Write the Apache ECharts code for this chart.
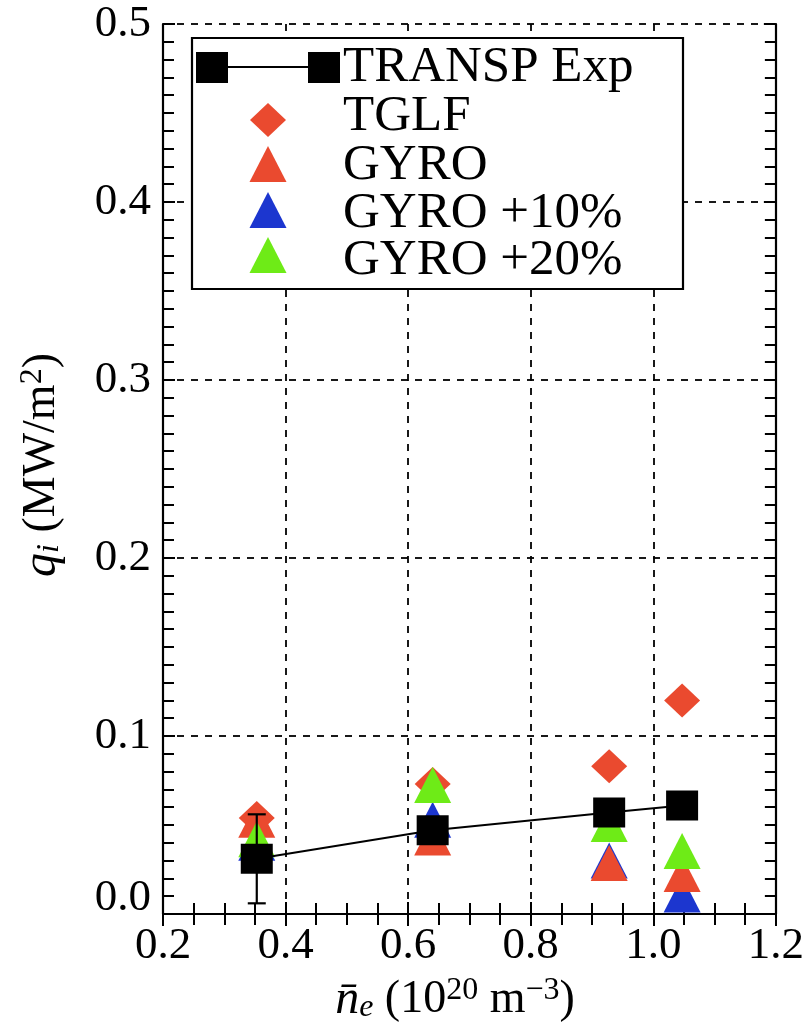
<!DOCTYPE html>
<html>
<head>
<meta charset="utf-8">
<script src="https://cdn.jsdelivr.net/npm/echarts@6/dist/echarts.min.js"></script>
<style>
html,body{margin:0;padding:0;background:#fff;}
#chart{width:807px;height:1035px;}
</style>
</head>
<body>
<div id="chart"></div>
<script>
// ---- data ----
const densities = [0.353, 0.640, 0.928, 1.047];
const transpExp = [0.031, 0.047, 0.057, 0.061];
const tglf      = [0.054, 0.073, 0.083, 0.120];
const gyro      = [0.053, 0.043, 0.0287, 0.0225];
const gyro10    = [0.040, 0.053, 0.030, 0.011];
const gyro20    = [0.042, 0.0725, 0.0506, 0.0354];
const errX      = [0.353];
const errLow    = [0.006];
const errHigh   = [0.056];
const seriesNames = ['TRANSP Exp', 'TGLF', 'GYRO', 'GYRO +10%', 'GYRO +20%'];
const xTickLabels = ['0.2', '0.4', '0.6', '0.8', '1.0', '1.2'];
const yTickLabels = ['0.0', '0.1', '0.2', '0.3', '0.4', '0.5'];

const RED = '#EA4A2F', BLUE = '#1C36CF', GREEN = '#6EEB17';
const FONT = '"Liberation Serif", "DejaVu Serif", serif';

const pairs = arr => arr.map((v, i) => [densities[i], v]);

const chart = echarts.init(document.getElementById('chart'), null, {renderer: 'canvas'});

const axisLine = {show: true, lineStyle: {color: '#000', width: 2.2}};
const tick = {show: true, inside: true, length: 12, lineStyle: {color: '#000', width: 2}};
const minor = n => ({show: true, splitNumber: n, length: 11, lineStyle: {color: '#000', width: 2}});
const grid = {show: true, lineStyle: {color: '#000', width: 1.8, type: [7, 7]}};

// legend graphics
const legendG = [];
legendG.push({type: 'rect', shape: {x: 192, y: 38, width: 491, height: 251},
  style: {fill: '#fff', stroke: '#000', lineWidth: 2.2}, z: 100});
legendG.push({type: 'line', shape: {x1: 212, y1: 67, x2: 324, y2: 67},
  style: {stroke: '#000', lineWidth: 2}, z: 101});
legendG.push({type: 'rect', shape: {x: 196, y: 52, width: 32, height: 31}, style: {fill: '#000'}, z: 102});
legendG.push({type: 'rect', shape: {x: 308, y: 52, width: 32, height: 31}, style: {fill: '#000'}, z: 102});
legendG.push({type: 'polygon', shape: {points: [[268, 103], [286, 120], [268, 137], [250, 120]]},
  style: {fill: RED}, z: 101});
const triCenters = [164, 210, 255], triColors = [RED, BLUE, GREEN];
triCenters.forEach((cy, i) => legendG.push({type: 'polygon',
  shape: {points: [[268, cy - 18], [286.5, cy + 18], [249.5, cy + 18]]},
  style: {fill: triColors[i]}, z: 101}));
const textCenters = [68, 117, 166, 214, 261];
seriesNames.forEach((n, i) => legendG.push({type: 'text', x: 343, y: textCenters[i],
  style: {text: n, font: '51px ' + FONT, fill: '#000', verticalAlign: 'middle', align: 'left'}, z: 101}));

// axis titles
const titleRich = {
  q: {font: 'italic 48px ' + FONT, fill: '#000'},
  s: {font: 'italic 32px ' + FONT, fill: '#000', padding: [16, 0, 0, 0]},
  n: {font: '46px ' + FONT, fill: '#000'},
  p: {font: '32px ' + FONT, fill: '#000', padding: [0, 0, 18, 0]}
};
legendG.push({type: 'text', x: 42, y: 465, rotation: Math.PI / 2,
  style: {text: '{q|q}{s|i}{n| (MW/m}{p|2}{n|)}', align: 'center', verticalAlign: 'middle', rich: titleRich},
  z: 50});
legendG.push({type: 'text', x: 455, y: 1000,
  style: {text: '{q|n\u0304}{s|e}{n| (10}{p|20}{n| m}{p|\u22123}{n|)}', align: 'center', verticalAlign: 'middle', rich: titleRich},
  z: 50});

const option = {
  backgroundColor: '#fff',
  animation: false,
  grid: {left: 163, right: 29, top: 24, bottom: 121, containLabel: false},
  xAxis: [{
    type: 'value', min: 0.2, max: 1.2, interval: 0.2, position: 'bottom',
    axisLine: axisLine, axisTick: tick, minorTick: minor(4), splitLine: grid,
    axisLabel: {margin: 10, color: '#000', fontFamily: FONT, fontSize: 45,
      formatter: v => xTickLabels[Math.round((v - 0.2) / 0.2)]}
  }, {
    type: 'value', min: 0.2, max: 1.2, interval: 0.2, position: 'top',
    axisLine: axisLine, axisTick: tick, minorTick: minor(4), splitLine: {show: false},
    axisLabel: {show: false}
  }],
  yAxis: [{
    type: 'value', min: 0, max: 0.5, interval: 0.1, position: 'left',
    axisLine: axisLine, axisTick: tick, minorTick: minor(10), splitLine: grid,
    axisLabel: {margin: 12, color: '#000', fontFamily: FONT, fontSize: 45,
      formatter: v => {
        const i = Math.round(v / 0.1);
        return i === 0 ? '{z|' + yTickLabels[0] + '}' : yTickLabels[i];
      },
      rich: {z: {fontFamily: FONT, fontSize: 45, color: '#000', padding: [0, 0, 32, 0]}}}
  }, {
    type: 'value', min: 0, max: 0.5, interval: 0.1, position: 'right',
    axisLine: axisLine, axisTick: tick, minorTick: minor(10), splitLine: {show: false},
    axisLabel: {show: false}
  }],
  series: [
    {name: seriesNames[3], type: 'scatter', data: pairs(gyro10), symbol: 'triangle',
      symbolSize: [37, 36], itemStyle: {color: BLUE, opacity: 1}, z: 2},
    {name: seriesNames[2], type: 'scatter', data: pairs(gyro), symbol: 'triangle',
      symbolSize: [37, 36], itemStyle: {color: RED, opacity: 1}, z: 3},
    {name: seriesNames[1], type: 'scatter', data: pairs(tglf), symbol: 'diamond',
      symbolSize: [36, 34], itemStyle: {color: RED, opacity: 1}, z: 4},
    {name: seriesNames[4], type: 'scatter', data: pairs(gyro20), symbol: 'triangle',
      symbolSize: [37, 36], itemStyle: {color: GREEN, opacity: 1}, z: 5},
    {name: 'err', type: 'custom', z: 6,
      data: errX.map((x, i) => [x, errLow[i], errHigh[i]]),
      renderItem: (params, api) => {
        const lo = api.coord([api.value(0), api.value(1)]);
        const hi = api.coord([api.value(0), api.value(2)]);
        const w = 9;
        const st = {stroke: '#000', lineWidth: 2.2};
        return {type: 'group', children: [
          {type: 'line', shape: {x1: lo[0], y1: lo[1], x2: hi[0], y2: hi[1]}, style: st},
          {type: 'line', shape: {x1: lo[0] - w, y1: lo[1], x2: lo[0] + w, y2: lo[1]}, style: st},
          {type: 'line', shape: {x1: hi[0] - w, y1: hi[1], x2: hi[0] + w, y2: hi[1]}, style: st}
        ]};
      }},
    {name: seriesNames[0], type: 'line', data: pairs(transpExp), symbol: 'rect',
      symbolSize: [32, 30], itemStyle: {color: '#000', opacity: 1},
      lineStyle: {color: '#000', width: 2}, z: 7}
  ],
  graphic: legendG
};
chart.setOption(option);
</script>
</body>
</html>
